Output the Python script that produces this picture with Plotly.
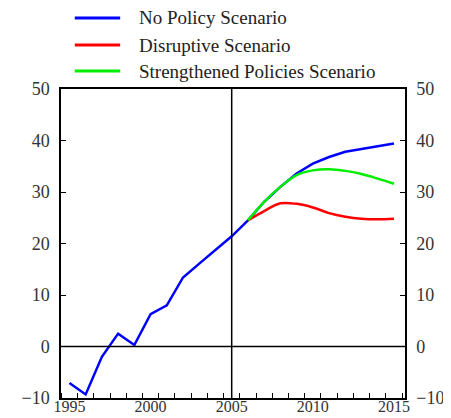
import plotly.graph_objects as go

# history 1995-2005 plus projection 2006-2015
years = list(range(1995, 2016))
no_policy = [-7.1, -9.3, -2.0, 2.5, 0.3, 6.3, 8.0, 13.4, 16.1, 18.8, 21.4,
             24.5, 28.1, 31.0, 33.6, 35.5, 36.8, 37.8, 38.4, 38.9, 39.4]

proj_years = list(range(2006, 2016))
disruptive = [24.5, 26.3, 27.8, 27.7, 27.0, 25.9, 25.2, 24.8, 24.7, 24.8]
strengthened = [24.5, 28.1, 31.0, 33.3, 34.2, 34.4, 34.1, 33.5, 32.6, 31.6]

series_names = ["No Policy Scenario", "Disruptive Scenario", "Strengthened Policies Scenario"]
series_colors = ["#0000ff", "#ff0000", "#00ee00"]

y_ticks = [-10, 0, 10, 20, 30, 40, 50]
x_ticks = [1995, 2000, 2005, 2010, 2015]

FONT = "Liberation Serif, Times New Roman, serif"

fig = go.Figure()

fig.add_trace(go.Scatter(x=years, y=no_policy, mode="lines",
                         line=dict(color=series_colors[0], width=2.5), name=series_names[0]))
fig.add_trace(go.Scatter(x=proj_years, y=disruptive, mode="lines", line_shape="spline",
                         line=dict(color=series_colors[1], width=2.5), name=series_names[1]))
fig.add_trace(go.Scatter(x=proj_years, y=strengthened, mode="lines", line_shape="spline",
                         line=dict(color=series_colors[2], width=2.5), name=series_names[2]))
# dummy trace so the right-hand axis gets drawn
fig.add_trace(go.Scatter(x=years[:1], y=no_policy[:1], yaxis="y2", mode="lines",
                         showlegend=False, hoverinfo="skip"))

fig.add_hline(y=0, line_color="black", line_width=1.5)
fig.add_vline(x=2005, line_color="black", line_width=1.5)

# hand-drawn legend above the plot
legend_rows = [1.23, 1.142, 1.058]
for name, color, ly in zip(series_names, series_colors, legend_rows):
    fig.add_shape(type="line", xref="paper", yref="paper", x0=0.04, x1=0.172, y0=ly, y1=ly,
                  line=dict(color=color, width=3))
    fig.add_annotation(xref="paper", yref="paper", x=0.222, y=ly, text=name, showarrow=False,
                       xanchor="left", yanchor="middle", font=dict(family=FONT, size=19, color="#222"))

axis_style = dict(showline=True, linecolor="black", linewidth=1.5, showgrid=False, zeroline=False,
                  automargin=False)
tick_font = dict(family=FONT, size=18, color="#333")

# page body adds an 8px offset top/left, so the figure is 8px smaller and l/t trimmed
fig.update_layout(
    width=443, height=410,
    margin=dict(l=53, r=46, t=81, b=20),
    plot_bgcolor="white", paper_bgcolor="white",
    showlegend=False,
    xaxis=dict(range=[1994.48, 2015.68], tickvals=x_ticks, ticks="", mirror=True,
               ticklabelstandoff=-7, tickfont=dict(family=FONT, size=16, color="#333"),
               minor=dict(tick0=1995.5, dtick=1, ticks="inside", ticklen=5, tickcolor="black", tickwidth=1.2),
               **axis_style),
    yaxis=dict(range=[-10, 50], tickvals=y_ticks, ticks="inside", ticklen=5, tickcolor="black",
               ticklabelstandoff=6, tickfont=tick_font, **axis_style),
    yaxis2=dict(range=[-10, 50], tickvals=y_ticks, ticks="inside", ticklen=5, tickcolor="black",
                overlaying="y", side="right", ticklabelstandoff=6, tickfont=tick_font, **axis_style),
)

fig.write_html("out.html")
